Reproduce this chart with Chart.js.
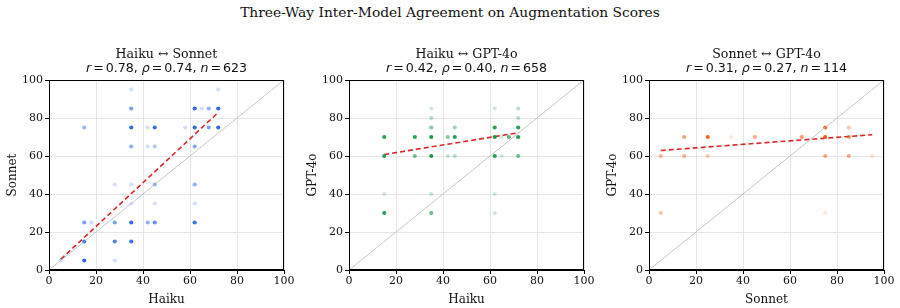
<!DOCTYPE html>
<html>
<head>
<meta charset="utf-8">
<script src="https://cdn.jsdelivr.net/npm/chart.js@4.4.1/dist/chart.umd.min.js"></script>
<style>
  body { margin: 0; background: #fff; }
  #wrap { position: relative; width: 900px; height: 308px; }
  #title { position: absolute; top: 4px; left: 0; width: 900px; text-align: center;
           font-family: "DejaVu Serif", serif; font-size: 13.8px; color: #111; }
  .panel { position: absolute; top: 0; width: 300px; height: 308px; }
</style>
</head>
<body>
<div id="wrap">
  <div id="title">Three-Way Inter-Model Agreement on Augmentation Scores</div>
  <div class="panel" style="left:0"><canvas id="c1" width="300" height="308"></canvas></div>
  <div class="panel" style="left:300px"><canvas id="c2" width="300" height="308"></canvas></div>
  <div class="panel" style="left:600px"><canvas id="c3" width="300" height="308"></canvas></div>
</div>
<script>
// Haiku vs Sonnet
const hsX = [35, 72, 35, 62, 65, 68, 72, 15, 35, 42, 45, 58, 62, 68, 72, 35, 42, 45, 62, 28, 35, 45, 62, 35, 45, 62, 15, 18, 28, 35, 42, 45, 62, 15, 28, 35, 15, 28, 5];
const hsY = [95, 95, 85, 85, 85, 85, 85, 75, 75, 75, 75, 75, 75, 75, 75, 65, 65, 65, 65, 45, 45, 45, 45, 35, 35, 35, 25, 25, 25, 25, 25, 25, 25, 15, 15, 15, 5, 5, 5];
const hsA = [0.2, 0.2, 0.6, 0.95, 0.2, 0.5, 0.95, 0.45, 0.95, 0.2, 0.9, 0.2, 0.95, 0.6, 0.95, 0.5, 0.2, 0.35, 0.55, 0.2, 0.2, 0.5, 0.5, 0.2, 0.2, 0.2, 0.6, 0.2, 0.6, 0.95, 0.5, 0.7, 0.9, 0.9, 0.8, 0.9, 0.95, 0.2, 0.2];

// Haiku vs GPT-4o
const hgX = [35, 62, 72, 35, 72, 35, 45, 62, 72, 15, 28, 35, 42, 45, 62, 65, 68, 72, 15, 28, 35, 42, 45, 62, 65, 72, 15, 35, 62, 15, 35, 62];
const hgY = [85, 85, 85, 80, 80, 75, 75, 75, 75, 70, 70, 70, 70, 70, 70, 70, 70, 70, 60, 60, 60, 60, 60, 60, 60, 60, 40, 40, 40, 30, 30, 30];
const hgA = [0.2, 0.2, 0.3, 0.3, 0.3, 0.5, 0.4, 0.9, 0.9, 0.9, 0.9, 0.95, 0.5, 0.9, 0.95, 0.2, 0.7, 0.95, 0.9, 0.6, 0.95, 0.25, 0.3, 0.9, 0.2, 0.6, 0.2, 0.25, 0.2, 0.9, 0.6, 0.2];

// Sonnet vs GPT-4o
const sgX = [5, 15, 15, 25, 25, 35, 45, 65, 75, 75, 75, 85, 85, 85, 95, 5, 75];
const sgY = [60, 70, 60, 70, 60, 70, 70, 70, 75, 70, 60, 75, 70, 60, 60, 30, 30];
const sgA = [0.4, 0.55, 0.45, 0.9, 0.3, 0.15, 0.5, 0.6, 0.85, 0.95, 0.5, 0.35, 0.6, 0.5, 0.15, 0.35, 0.15];

// regression line end points
const trendX = [[5, 72], [15, 72], [5, 95]];
const trendY = [[5.6, 82.9], [60.8, 72.2], [62.9, 71.2]];

const panelTitles = ['Haiku \u2194 Sonnet', 'Haiku \u2194 GPT-4o', 'Sonnet \u2194 GPT-4o'];
const statR = ['0.78', '0.42', '0.31'];
const statRho = ['0.74', '0.40', '0.27'];
const statN = ['623', '658', '114'];
const xLabels = ['Haiku', 'Haiku', 'Sonnet'];
const yLabels = ['Sonnet', 'GPT-4o', 'GPT-4o'];
const colors = [[37, 99, 235], [22, 150, 70], [234, 88, 12]];

const serif = '"DejaVu Serif", serif';

const framePlugin = {
  id: 'frame',
  afterDraw(chart, args, opts) {
    const { ctx, chartArea: a } = chart;
    ctx.save();
    ctx.strokeStyle = '#000';
    ctx.lineWidth = 1;
    ctx.strokeRect(a.left + 0.5, a.top + 0.5, a.right - a.left - 1, a.bottom - a.top - 1);
    // titles
    const cx = (a.left + a.right) / 2;
    ctx.fillStyle = '#111';
    ctx.textAlign = 'center';
    ctx.textBaseline = 'alphabetic';
    ctx.font = '12.6px ' + serif;
    ctx.fillText(opts.title, cx, 58);
    // math line: [text, italic, gap after]
    const segs = [
      ['r', true, 2], ['=', false, 2], [opts.r + ',', false, 4],
      ['\u03c1', true, 2], ['=', false, 2], [opts.rho + ',', false, 4],
      ['n', true, 2], ['=', false, 2], [opts.n, false, 0]
    ];
    const fontOf = it => (it ? 'italic ' : '') + '12.6px "DejaVu Sans", sans-serif';
    let w = 0;
    segs.forEach(s => { ctx.font = fontOf(s[1]); w += ctx.measureText(s[0]).width + s[2]; });
    let x = cx - w / 2;
    ctx.textAlign = 'left';
    segs.forEach(s => {
      ctx.font = fontOf(s[1]);
      ctx.fillText(s[0], x, 72);
      x += ctx.measureText(s[0]).width + s[2];
    });
    ctx.restore();
  }
};

function makePanel(id, i, xs, ys, alphas) {
  const c = colors[i];
  const pts = xs.map((x, k) => ({ x: x, y: ys[k] }));
  const fills = alphas.map(a => `rgba(${c[0]},${c[1]},${c[2]},${a})`);
  new Chart(document.getElementById(id), {
    type: 'scatter',
    data: {
      datasets: [
        { type: 'line', data: [{ x: 0, y: 0 }, { x: 100, y: 100 }], borderColor: '#b0b0b0',
          borderWidth: 0.7, pointRadius: 0, fill: false },
        { data: pts, backgroundColor: fills, borderWidth: 0, pointRadius: 2.1 },
        { type: 'line', data: trendX[i].map((x, k) => ({ x: x, y: trendY[i][k] })),
          borderColor: '#dc2626', borderWidth: 1.6, borderDash: [5, 3], pointRadius: 0, fill: false }
      ]
    },
    options: {
      responsive: false,
      animation: false,
      layout: { padding: { top: 80, right: 16, left: 0, bottom: 0 } },
      plugins: {
        legend: { display: false },
        tooltip: { enabled: false },
        frame: { title: panelTitles[i], r: statR[i], rho: statRho[i], n: statN[i] }
      },
      scales: {
        x: {
          type: 'linear', min: 0, max: 100,
          ticks: { stepSize: 20, color: '#111', font: { family: serif, size: 11 }, padding: 1 },
          grid: { color: '#e6e6e6', tickColor: '#000', tickLength: 4 },
          border: { color: '#000' },
          title: { display: true, text: xLabels[i], color: '#111', font: { family: serif, size: 12 }, padding: { top: 0, bottom: 1 } },
          afterFit(s) { s.height = 38; }
        },
        y: {
          type: 'linear', min: 0, max: 100,
          ticks: { stepSize: 20, color: '#111', font: { family: serif, size: 11 }, padding: 2 },
          grid: { color: '#e6e6e6', tickColor: '#000', tickLength: 4 },
          border: { color: '#000' },
          title: { display: true, text: yLabels[i], color: '#111', font: { family: serif, size: 12 }, padding: { top: 6, bottom: 0 } },
          afterFit(s) { s.width = 49; }
        }
      }
    },
    plugins: [framePlugin]
  });
}

makePanel('c1', 0, hsX, hsY, hsA);
makePanel('c2', 1, hgX, hgY, hgA);
makePanel('c3', 2, sgX, sgY, sgA);
</script>
</body>
</html>
